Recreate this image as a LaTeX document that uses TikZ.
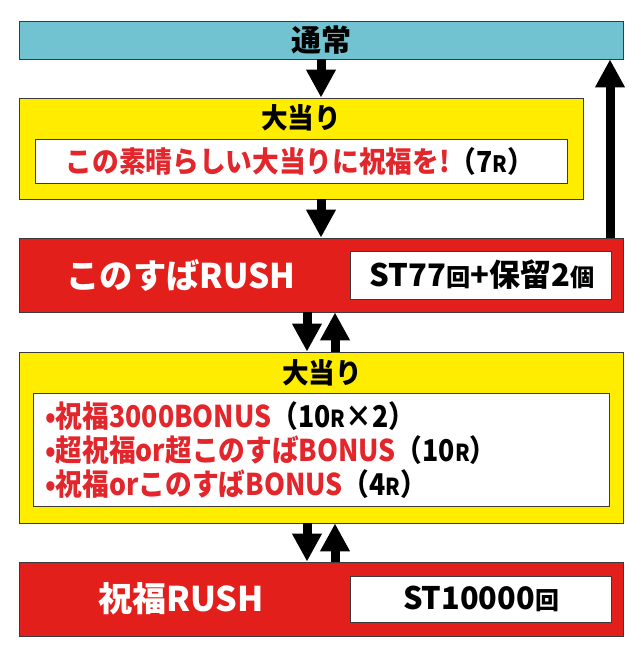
\documentclass[tikz,border=0pt]{standalone}
\usepackage{fontspec}
\usepackage{graphicx}
\usetikzlibrary{arrows.meta}
\newfontfamily\jpb{Noto Sans CJK JP Bold}
\newfontfamily\jpk{Noto Sans CJK JP Black}
\definecolor{cyanbox}{HTML}{72C3D1}
\definecolor{yelbox}{HTML}{FFED00}
\definecolor{redbox}{HTML}{E21F1A}
\definecolor{redtxt}{HTML}{E2262B}
\definecolor{edge}{HTML}{3A3A3A}
\newcommand\smr[1]{\scalebox{0.78}{#1}}
\newcommand\xs[2]{\scalebox{#1}[1]{#2}}
\tikzset{
  box/.style={draw=edge,line width=0.8pt,inner sep=0pt,minimum width=#1},
  txt/.style={inner sep=0pt,font=\jpk},
  arr/.style={line width=9pt,-{Triangle[width=28pt,length=28pt]}}
}
\begin{document}
\begin{tikzpicture}[x=1pt,y=-1pt]
\useasboundingbox (0,0) rectangle (640,655);
% boxes
\node[box=604pt,fill=cyanbox,minimum height=38pt] (tsujo) at (321,40) {};
\node[box=564pt,fill=yelbox,minimum height=101pt] (oa1) at (301,148.5) {};
\node[box=532pt,fill=white,minimum height=44pt] (oa1in) at (301,161) {};
\node[box=604pt,fill=redbox,minimum height=74pt] (rush1) at (321,275) {};
\node[box=261pt,fill=white,minimum height=48pt] (rush1in) at (480.5,275) {};
\node[box=604pt,fill=yelbox,minimum height=171pt] (oa2) at (321,437.5) {};
\node[box=576pt,fill=white,minimum height=113pt] (oa2in) at (321,449.5) {};
\node[box=604pt,fill=redbox,minimum height=74pt] (rush2) at (321,599) {};
\node[box=261pt,fill=white,minimum height=46pt] (rush2in) at (480.5,599) {};
% texts
\node[txt,font=\jpk\fontsize{30}{30}\selectfont] (t1) at (321,40) {通常};
\node[txt,font=\jpk\fontsize{28}{28}\selectfont] (t2) at (301,118) {\xs{0.95}{大当り}};
\node[txt,font=\jpk\fontsize{29}{29}\selectfont] (t3) at (300,161) {\xs{0.92}{\textcolor{redtxt}{この素晴らしい大当りに祝福を!}（7\smr{R}）}};
\node[txt,font=\jpk\fontsize{34}{34}\selectfont,text=white] (t4) at (181,275) {\xs{0.98}{このすばRUSH}};
\node[txt,font=\jpk\fontsize{31}{31}\selectfont] (t5) at (482,275) {\xs{1.0}{ST77\smr{回}+保留2\smr{個}}};
\node[txt,font=\jpk\fontsize{28}{28}\selectfont] (t6) at (322,372.5) {\xs{0.95}{大当り}};
\node[txt,font=\jpk\fontsize{30}{30}\selectfont,anchor=west] (b1) at (45,416) {\xs{0.89}{\textcolor{redtxt}{•祝福3000BONUS}（10\smr{R}×2）}};
\node[txt,font=\jpk\fontsize{30}{30}\selectfont,anchor=west] (b2) at (45,450) {\xs{0.89}{\textcolor{redtxt}{•超祝福or超このすばBONUS}（10\smr{R}）}};
\node[txt,font=\jpk\fontsize{30}{30}\selectfont,anchor=west] (b3) at (45,484) {\xs{0.89}{\textcolor{redtxt}{•祝福orこのすばBONUS}（4\smr{R}）}};
\node[txt,font=\jpk\fontsize{34}{34}\selectfont,text=white] (t7) at (181,599) {\xs{1.0}{祝福RUSH}};
\node[txt,font=\jpk\fontsize{31}{31}\selectfont] (t8) at (481,599) {\xs{0.99}{ST10000\smr{回}}};
% arrows
\draw[arr] (tsujo.south) -- (tsujo.south |- oa1.north);
\draw[arr] (tsujo.south |- oa1.south) -- (tsujo.south |- rush1.north);
\draw[arr] ([xshift=289pt]rush1.north) -- ([xshift=289pt]rush1.north |- tsujo.south);
\draw[arr] ([xshift=-14pt]rush1.south) -- ([xshift=-14pt]rush1.south |- oa2.north);
\draw[arr] ([xshift=14pt]oa2.north) -- ([xshift=14pt]oa2.north |- rush1.south);
\draw[arr] ([xshift=-14pt]oa2.south) -- ([xshift=-14pt]oa2.south |- rush2.north);
\draw[arr] ([xshift=14pt]rush2.north) -- ([xshift=14pt]rush2.north |- oa2.south);
\end{tikzpicture}
\end{document}
